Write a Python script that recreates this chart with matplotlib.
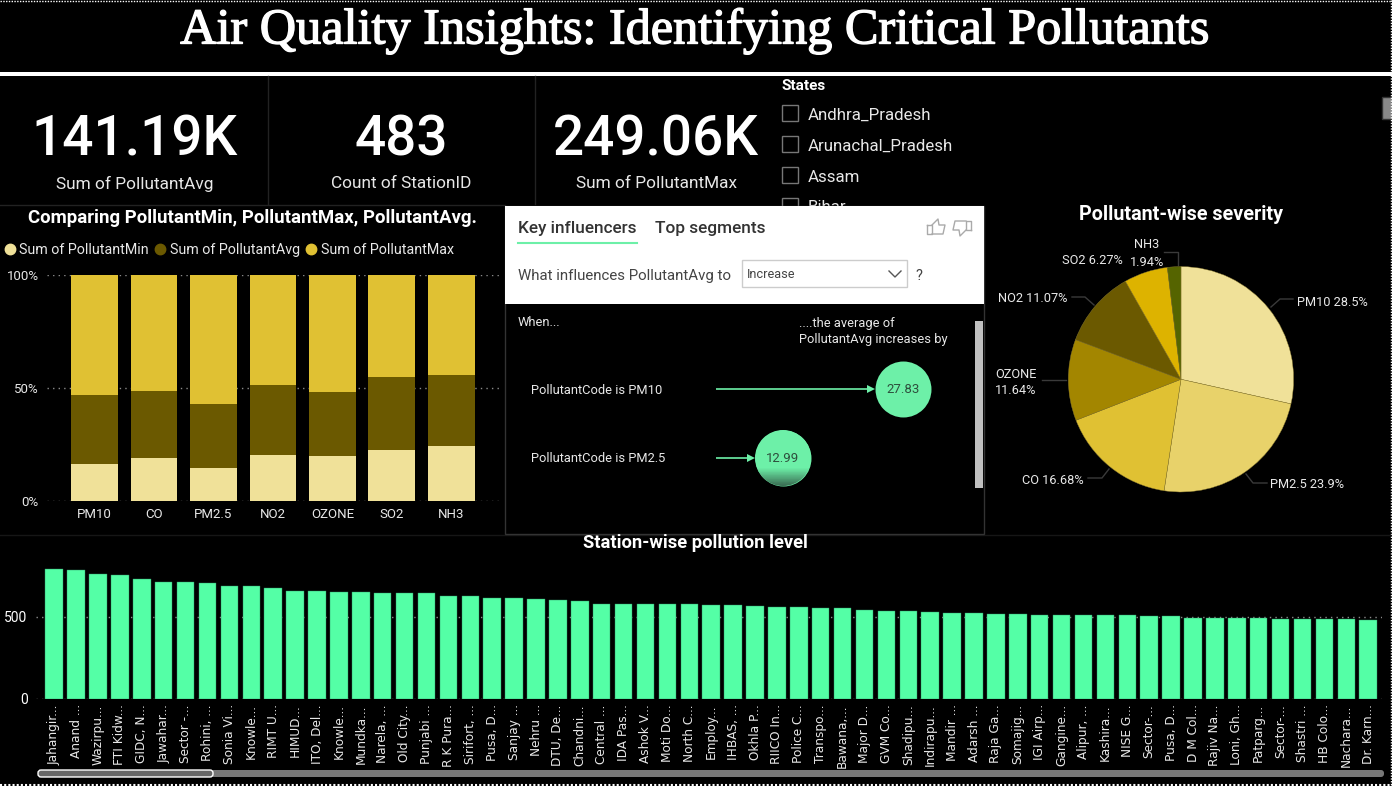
import numpy as np
import matplotlib
matplotlib.use("Agg")
import matplotlib.pyplot as plt
import matplotlib.patheffects as pe
from matplotlib.lines import Line2D
from matplotlib.patches import Rectangle, Circle, FancyBboxPatch
from matplotlib.transforms import IdentityTransform
from matplotlib.colors import LinearSegmentedColormap

plt.rcParams['font.family'] = ['Roboto', 'DejaVu Sans']

# data
kpi_values = ["141.19K", "483", "249.06K"]
kpi_labels = ["Sum of PollutantAvg", "Count of StationID", "Sum of PollutantMax"]
states = ["Andhra_Pradesh", "Arunachal_Pradesh", "Assam", "Bihar"]

pollutants = ["PM10", "CO", "PM2.5", "NO2", "OZONE", "SO2", "NH3"]
share_min = [16.6, 19.3, 14.6, 20.4, 19.8, 22.5, 24.4]
share_avg = [30.3, 29.4, 28.3, 31.1, 28.3, 32.2, 31.3]
share_max = [53.1, 51.3, 57.1, 48.5, 51.9, 45.3, 44.3]

pie_names = ["PM10", "PM2.5", "CO", "OZONE", "NO2", "SO2", "NH3"]
pie_values = [28.5, 23.9, 16.68, 11.64, 11.07, 6.27, 1.94]
pie_colors = ["#F0E199", "#E8D26A", "#E0C133", "#A38600", "#6B5900", "#DDB300", "#556400"]

influencers = ["PollutantCode is PM10", "PollutantCode is PM2.5"]
influence_values = [27.83, 12.99]

stations = ["Jahangir...", "Anand ...", "Wazirpu...", "FTI Kidw...", "GIDC, N...", "Jawahar...",
            "Sector -...", "Rohini, ...", "Sonia Vi...", "Knowle...", "RIMT U...", "HIMUD...",
            "ITO, Del...", "Knowle...", "Mundka...", "Narela, ...", "Old City...", "Punjabi ...",
            "R K Pura...", "Sirifort, ...", "Pusa, D...", "Sanjay ...", "Nehru ...", "DTU, De...",
            "Chandni...", "Central ...", "IDA Pas...", "Ashok V...", "Moti Do...", "North C...",
            "Employ...", "IHBAS, ...", "Okhla P...", "RIICO In...", "Police C...", "Transpo...",
            "Bawana,...", "Major D...", "GVM Co...", "Shadipu...", "Indirapu...", "Mandir ...",
            "Adarsh ...", "Raja Ga...", "Somajig...", "IGI Airp...", "Gangine...", "Alipur, ...",
            "Kashira...", "NISE G...", "Sector-...", "Pusa, D...", "D M Col...", "Rajiv Na...",
            "Loni, Gh...", "Patparg...", "Sector-...", "Shastri ...", "HB Colo...", "Nachara...",
            "Dr. Karn..."]
station_values = [788, 786, 758, 756, 732, 711, 711, 707, 689, 685, 673, 658, 656, 650, 648, 646,
                  642, 642, 628, 626, 616, 616, 606, 604, 593, 579, 579, 575, 575, 575,
                  571, 569, 567, 559, 557, 555, 551, 539, 535, 535, 530, 524, 522, 518, 514, 510,
                  508, 508, 508, 508, 504, 502, 494, 492, 490, 490, 488, 486, 484, 484, 482]

W, H = 1392, 786
GREEN = "#54FFA6"
BUBBLE = "#6DF0A8"
GRID = "#8a8a8a"
LIGHT = "#e8e8e8"

fig = plt.figure(figsize=(W / 100, H / 100), dpi=100, facecolor="black")


def px_axes(x0, y0, x1, y1, z=2):
    a = fig.add_axes([x0 / W, 1 - y1 / H, (x1 - x0) / W, (y1 - y0) / H], zorder=z)
    a.patch.set_visible(False)
    return a


# background layer in pixel coordinates
bg = fig.add_axes([0, 0, 1, 1], zorder=0)
bg.set_xlim(0, W)
bg.set_ylim(H, 0)
bg.axis("off")

title = bg.text(695, 31, "Air Quality Insights: Identifying Critical Pollutants", family="Liberation Serif",
                fontsize=36.2, color="white", ha="center", va="center")
title.set_path_effects([pe.withStroke(linewidth=1.0, foreground="white")])
bg.add_patch(Rectangle((0, 72), W, 4, color="white", lw=0))
bg.plot([0, W], [0.5, 0.5], color="white", lw=1, ls=(0, (1, 1)))
bg.plot([0, W], [784.5, 784.5], color="white", lw=1.5, ls=(0, (1, 1)))
bg.plot([W - 1, W - 1], [0, H], color="white", lw=1, ls=(0, (1, 1)))

# cards
for x in [268, 535]:
    bg.plot([x, x], [76, 204], color="#222222", lw=1)
bg.plot([0, 505], [204.5, 204.5], color="#222222", lw=1)
bg.plot([0, W], [534.5, 534.5], color="#161616", lw=1)
for cx, val, lab in zip([135, 401, 656], kpi_values, kpi_labels):
    bg.text(cx, 140, val, fontsize=39.5, color="white", ha="center", va="center", fontweight="medium")
    bg.text(cx, 184, lab, fontsize=12.4, color=LIGHT, ha="center", va="center")

# slicer
bg.text(782, 86, "States", fontsize=11, color="white", fontweight="bold", va="center")
for i, s in enumerate(states):
    y = 113 + 31 * i
    bg.add_patch(Rectangle((782, y - 8), 16, 16, fc="none", ec="#777777", lw=1))
    bg.text(808, y + 2, s, fontsize=12.2, color=LIGHT, va="center")
bg.add_patch(Rectangle((1382, 97), 10, 22, fc="#888888", ec="#333333", lw=1))

# key influencers panel
bg.add_patch(Rectangle((505, 206), 479, 328, fc="black", ec="#333333", lw=1, zorder=3))
bg.add_patch(Rectangle((505, 206), 479, 98, fc="white", lw=0, zorder=3))
bg.text(518, 229, "Key influencers", fontsize=12.4, color="#333333", fontweight="medium", va="center", zorder=4)
bg.text(655, 229, "Top segments", fontsize=12.4, color="#333333", fontweight="medium", va="center", zorder=4)
bg.plot([518, 637], [243, 243], color=BUBBLE, lw=1.5, zorder=4)
bg.plot([927, 932, 932, 927, 927], [225, 225, 234, 234, 225], color="#aaaaaa", lw=1, zorder=4)
bg.plot([932, 938, 939, 945, 943, 932], [225, 219, 225, 225, 234, 234], color="#aaaaaa", lw=1, zorder=4)
bg.plot([971, 966, 966, 971, 971], [230, 230, 221, 221, 230], color="#aaaaaa", lw=1, zorder=4)
bg.plot([966, 960, 959, 953, 955, 966], [230, 236, 230, 230, 221, 221], color="#aaaaaa", lw=1, zorder=4)
bg.text(518, 276, "What influences PollutantAvg to", fontsize=10.85, color="#444444", va="center", zorder=4)
bg.add_patch(Rectangle((742, 260), 165, 27, fc="white", ec="#cccccc", lw=1, zorder=4))
bg.text(747, 275, "Increase", fontsize=9.2, color="#444444", va="center", zorder=5)
bg.plot([889, 895, 901], [271, 277, 271], color="#555555", lw=1, zorder=5)
bg.text(919, 276, "?", fontsize=10.5, color="#444444", ha="center", va="center", zorder=4)
bg.text(518, 323, "When...", fontsize=9.3, color=LIGHT, va="center", zorder=4)
bg.text(799, 323, "....the average of", fontsize=9.3, color=LIGHT, va="center", zorder=4)
bg.text(799, 340, "PollutantAvg increases by", fontsize=9.3, color=LIGHT, va="center", zorder=4)
bg.add_patch(Rectangle((975, 321), 8, 167, fc="#c0c0c0", lw=0, zorder=4))
for i, name in enumerate(influencers):
    bg.text(531, 390 + 69 * i, name, fontsize=9.3, color=LIGHT, va="center", zorder=4)

# influencer bubbles, value axis is linear
ia = px_axes(716, 350, 960, 500, z=3)
px_per = (903 - 783) / (influence_values[0] - influence_values[1])
x_lo = influence_values[1] - (783 - 716) / px_per
x_hi = influence_values[1] + (960 - 783) / px_per
ia.set_xlim(x_lo, x_hi)
# 69 px between the rows, first row at y=389
ia.set_ylim(1 + 42 / 69, -39 / 69)
ia.axis("off")
for i, v in enumerate(influence_values):
    ia.plot([x_lo, v - 28 / px_per - 0.8], [i, i], color=BUBBLE, lw=1.2, solid_capstyle="butt")
    ia.plot([v - 28 / px_per - 0.5], [i], marker=">", ms=6, color=BUBBLE, mew=0)
    ia.scatter([v], [i], s=1624, color=BUBBLE, linewidths=0, zorder=3)
    ia.text(v, i + 0.01, f"{v:.2f}", fontsize=9.5, color="#2e4f3d", ha="center", va="center", zorder=6)
shade = LinearSegmentedColormap.from_list("shade", [(0, BUBBLE), (0.68, BUBBLE), (1, "#3a6b52")])
v = influence_values[1]
grad = np.linspace(0, 1, 128).reshape(-1, 1)
im = ia.imshow(grad, cmap=shade, aspect="auto", zorder=4, interpolation="nearest", vmin=0, vmax=1,
               extent=(v - 30 / px_per, v + 30 / px_per, 1 + 28 / 69, 1 - 28 / 69))
ia.set_xlim(x_lo, x_hi)
ia.set_ylim(1 + 42 / 69, -39 / 69)
cx, cy = ia.transData.transform((v, 1))
im.set_clip_path(Circle((cx, cy), 28, transform=IdentityTransform()))

# 100% stacked columns
bg.text(252, 218, "Comparing PollutantMin, PollutantMax, PollutantAvg.", fontsize=13.4, color="white",
        fontweight="bold", ha="center", va="center")
ax = px_axes(47, 274.7, 500, 501.3)
xs = np.arange(len(pollutants))
lo = np.array(share_min)
mid = np.array(share_avg)
hi = np.array(share_max)
ax.bar(xs, lo, 0.786, color="#F0E199", zorder=2)
ax.bar(xs, mid, 0.786, bottom=lo, color="#6B5900", zorder=2)
ax.bar(xs, hi, 0.786, bottom=lo + mid, color="#E0C133", zorder=2)
ax.set_xlim(-0.80, 6.82)
ax.set_ylim(0, 100)
ax.set_yticks([0, 50, 100], ["0%", "50%", "100%"])
ax.set_xticks(xs, pollutants)
ax.grid(axis="y", color=GRID, ls=(0, (1, 3)), lw=1, zorder=1)
ax.tick_params(length=0, colors=LIGHT, labelsize=9.5, pad=5)
ax.tick_params(axis="y", pad=6)
for s in ax.spines.values():
    s.set_visible(False)
handles = [Line2D([], [], ls="", marker="o", ms=7.5, color=c) for c in ["#F0E199", "#6B5900", "#E0C133"]]
fig.legend(handles, ["Sum of PollutantMin", "Sum of PollutantAvg", "Sum of PollutantMax"],
           loc="center left", bbox_to_anchor=(0 / W, 1 - 250 / H), ncols=3, frameon=False,
           fontsize=10.3, labelcolor=LIGHT, handlelength=0.8, handletextpad=0.29, columnspacing=0.38,
           borderpad=0, borderaxespad=0.27)

# pie
bg.text(1181, 214, "Pollutant-wise severity", fontsize=14.2, color="white", fontweight="bold",
        ha="center", va="center")
pa = px_axes(1181 - 112.7, 379.3 - 112.7, 1181 + 112.7, 379.3 + 112.7)
pa.pie(pie_values, colors=pie_colors, startangle=90, counterclock=False, radius=1,
       wedgeprops={"edgecolor": "#8a7a30", "linewidth": 0.3})
pa.set_xlim(-1, 1)
pa.set_ylim(-1, 1)
leaders = [
    ([1271, 1280, 1293], [307, 299, 299]),
    ([1246, 1253, 1267], [474, 483, 483]),
    ([1109, 1102, 1088], [469, 478, 478]),
    ([1042, 1066], [380, 380]),
    ([1072, 1085, 1094], [297, 297, 305]),
    ([1164, 1178, 1178], [252, 252, 265]),
]
for lx, ly in leaders:
    bg.plot(lx, ly, color="#3a3a3a", lw=1)
pie_text = dict(fontsize=9.2, color=LIGHT, va="center")
bg.text(1297, 303, f"{pie_names[0]} {pie_values[0]}%", ha="left", **pie_text)
bg.text(1270, 485, f"{pie_names[1]} {pie_values[1]}%", ha="left", **pie_text)
bg.text(1084, 480, f"{pie_names[2]} {pie_values[2]}%", ha="right", **pie_text)
bg.text(1016, 374, pie_names[3], ha="center", **pie_text)
bg.text(1016, 391, f"{pie_values[3]}%", ha="center", **pie_text)
bg.text(1067, 299, f"{pie_names[4]} {pie_values[4]}%", ha="right", **pie_text)
bg.text(1123, 261, f"{pie_names[5]} {pie_values[5]}%", ha="right", **pie_text)
bg.text(1147, 245, pie_names[6], ha="center", **pie_text)
bg.text(1147, 263, f"{pie_values[6]}%", ha="center", **pie_text)

# station columns
bg.text(695, 543, "Station-wise pollution level", fontsize=13.2, color="white", fontweight="bold",
        ha="center", va="center", zorder=5)
sa = px_axes(36, 560, 1382, 698.7)
sx = np.arange(len(stations))
sa.bar(sx, station_values, 0.8, color=GREEN, edgecolor="#2f8f63", linewidth=0.3, zorder=2)
sa.set_xlim(-0.833, 60.63)
sa.set_ylim(0, 845.7)
sa.set_yticks([0, 500])
sa.set_xticks(sx, stations, rotation=90, family="DejaVu Sans", fontsize=8.7, color=LIGHT)
sa.grid(axis="y", color=GRID, ls=(0, (1, 3)), lw=1, zorder=1)
sa.tick_params(length=0)
sa.tick_params(axis="x", pad=4)
sa.tick_params(axis="y", colors="white", labelsize=10, pad=6)
for s in sa.spines.values():
    s.set_visible(False)

# scrollbar
bg.add_patch(FancyBboxPatch((39, 770), 1345, 7, boxstyle="round,pad=0,rounding_size=3", fc="#777777", lw=0))
bg.add_patch(FancyBboxPatch((38, 770), 175, 7, boxstyle="round,pad=0,rounding_size=3", fc="#666666", ec="white", lw=1))

fig.savefig("out.png", dpi=100, facecolor="black")
